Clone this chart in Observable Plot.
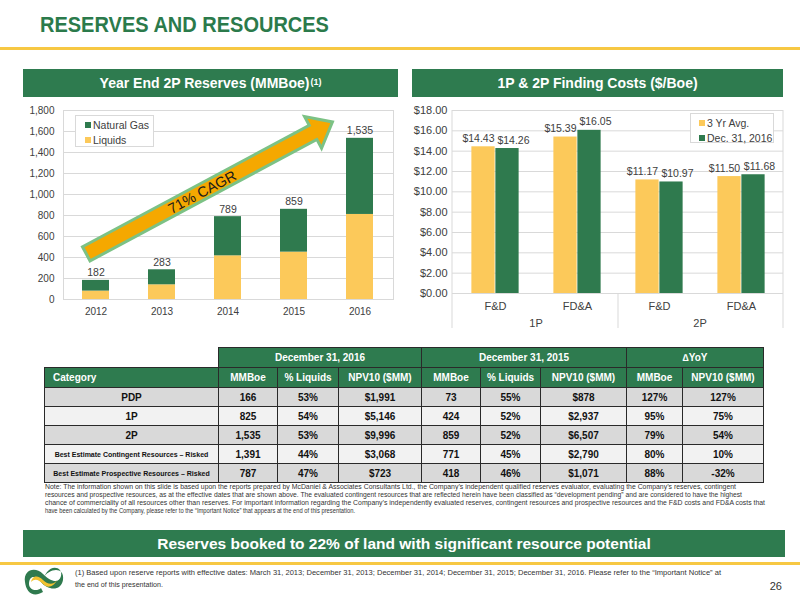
<!DOCTYPE html>
<html>
<head>
<meta charset="utf-8">
<script src="https://cdn.jsdelivr.net/npm/d3@7"></script>
<script src="https://cdn.jsdelivr.net/npm/@observablehq/plot@0.6"></script>
<style>
  html, body { margin: 0; padding: 0; background: #fff; }
  body { width: 800px; height: 600px; position: relative; overflow: hidden; font-family: "Liberation Sans", Arial, Helvetica, sans-serif; }
  .abs { position: absolute; }
  .title { left: 40px; top: 14px; font-size: 20px; font-weight: bold; color: #2B7A4B; letter-spacing: 0px; transform: scaleY(1.1); transform-origin: 0 100%; white-space: nowrap; }
  .rule { left: 0; width: 800px; height: 3px; background: #F7C843; }
  .bar { background: #2E7B4F; color: #fff; font-weight: bold; font-size: 14px; display: flex; align-items: center; justify-content: center; white-space: nowrap; }
  .bar sup { font-size: 9px; position: relative; top: -1px; margin-left: 1px; }
  .legend { border: 1px solid #d9d9d9; background: #fff; font-size: 10.5px; color: #404040; box-sizing: border-box; padding: 2px 0 0 9px; }
  .legend div { height: 15px; line-height: 15px; white-space: nowrap; }
  .legend span.sw { display: inline-block; width: 6px; height: 6px; margin-right: 2px; vertical-align: 1px; }
  table.tbl { position: absolute; left: 44px; top: 347px; border-collapse: collapse; table-layout: fixed; font-size: 10px; font-weight: bold; color: #111; }
  table.tbl td { border: 1px solid #2a2a2a; text-align: center; padding: 0; overflow: hidden; white-space: nowrap; }
  table.tbl tr.h td { background: #2E7B4F; color: #fff; height: 19px; }
  table.tbl tr.h td.blank { background: transparent; border: none; }
  table.tbl tr.d td { height: 18px; }
  table.tbl tr.g td { background: #D9D9D9; }
  table.tbl tr.l td { background: #F2F2F2; }
  table.tbl td.small { font-size: 7px; }
  table.tbl td.left { text-align: left; padding-left: 8px; }
  svg.notes { position: absolute; left: 0; top: 0; }
</style>
</head>
<body>
<div class="abs title" id="title"></div>
<div class="abs rule" style="top:47px"></div>
<div class="abs bar" id="hdrL" style="left:23px; top:69px; width:375px; height:28px"></div>
<div class="abs bar" id="hdrR" style="left:412px; top:69px; width:371px; height:28px"></div>
<div class="abs" id="chartL" style="left:0; top:100px"></div>
<div class="abs" id="chartR" style="left:400px; top:100px"></div>
<div class="abs legend" id="legL" style="left:75px; top:115px; width:79px; height:32px"></div>
<div class="abs legend" id="legR" style="left:690px; top:113px; width:84px; height:30px; padding-left:8px"></div>
<table class="tbl" id="tbl"></table>
<div class="abs bar" id="banner" style="left:23px; top:530px; width:762px; height:27px; font-size:15.5px"></div>
<div class="abs rule" style="top:562px"></div>
<svg class="notes" width="800" height="600" id="notes"></svg>
<script>
// ---------------- Data ----------------
const slideTitle = "RESERVES AND RESOURCES";
const leftHeader = "Year End 2P Reserves (MMBoe)";
const leftHeaderNote = "(1)";
const rightHeader = "1P & 2P Finding Costs ($/Boe)";
const bannerText = "Reserves booked to 22% of land with significant resource potential";

const years = ["2012", "2013", "2014", "2015", "2016"];
const liquids = [80, 140, 416, 451, 810];
const naturalGas = [102, 143, 373, 408, 725];
const reserveTotals = [182, 283, 789, 859, 1535];
const reserveSeries = ["Natural Gas", "Liquids"];
const reserveTicks = [0, 200, 400, 600, 800, 1000, 1200, 1400, 1600, 1800];
const cagr = {label: "71% CAGR", fromStep: -0.14, fromValue: 430, toStep: 3.59, toValue: 1686};

const costGroups = ["1P", "1P", "2P", "2P"];
const costMetrics = ["F&D", "FD&A", "F&D", "FD&A"];
const costAvg3yr = [14.43, 15.39, 11.17, 11.50];
const costDec2016 = [14.26, 16.05, 10.97, 11.68];
const costSeries = ["3 Yr Avg.", "Dec. 31, 2016"];
const costTicks = [0, 2, 4, 6, 8, 10, 12, 14, 16, 18];

const tblPeriods = ["December 31, 2016", "December 31, 2015", "\u2206YoY"];
const tblColumns = ["Category", "MMBoe", "% Liquids", "NPV10 ($MM)", "MMBoe", "% Liquids", "NPV10 ($MM)", "MMBoe", "NPV10 ($MM)"];
const tblCategories = ["PDP", "1P", "2P", "Best Estimate Contingent Resources \u2013 Risked", "Best Estimate Prospective Resources \u2013 Risked"];
const mmboe2016 = ["166", "825", "1,535", "1,391", "787"];
const liq2016 = ["53%", "54%", "53%", "44%", "47%"];
const npv2016 = ["$1,991", "$5,146", "$9,996", "$3,068", "$723"];
const mmboe2015 = ["73", "424", "859", "771", "418"];
const liq2015 = ["55%", "52%", "52%", "45%", "46%"];
const npv2015 = ["$878", "$2,937", "$6,507", "$2,790", "$1,071"];
const yoyMmboe = ["127%", "95%", "79%", "80%", "88%"];
const yoyNpv = ["127%", "75%", "54%", "10%", "-32%"];

const noteLines = [
  "Note: The information shown on this slide is based upon the reports prepared by McDaniel & Associates Consultants Ltd., the Company\u2019s independent qualified reserves evaluator, evaluating the Company\u2019s reserves, contingent",
  "resources and prospective resources, as at the effective dates that are shown above.  The evaluated contingent resources that are reflected herein have been classified as \u201cdevelopment pending\u201d and are considered to have the highest",
  "chance of commerciality of all resources other than reserves. For important information regarding the Company\u2019s independently evaluated reserves, contingent resources and prospective resources and the F&D costs and FD&A costs that",
  "have been calculated by the Company, please refer to the \u201cImportant Notice\u201d that appears at the end of this presentation."
];
const footLines = [
  "(1) Based upon reserve reports with effective dates: March 31, 2013; December 31, 2013; December 31, 2014; December 31, 2015; December 31, 2016. Please refer to the \u201cImportant Notice\u201d at",
  "the end of this presentation."
];
const pageNumber = "26";

// ---------------- Style ----------------
const GREEN = "#2F7A4E", YELLOW = "#FCC95A", GRID = "#D9D9D9", INK = "#404040";
const FONT = "'Liberation Sans', Arial, Helvetica, sans-serif";

document.getElementById("title").textContent = slideTitle;
document.getElementById("hdrL").append(leftHeader);
const sup = document.createElement("sup"); sup.textContent = leftHeaderNote;
document.getElementById("hdrL").append(sup);
document.getElementById("hdrR").textContent = rightHeader;
document.getElementById("banner").textContent = bannerText;

// ---------------- Left chart ----------------
const resData = years.flatMap((y, i) => [
  {year: y, series: "Liquids", value: liquids[i]},
  {year: y, series: "Natural Gas", value: naturalGas[i]}
]);
const totData = years.map((y, i) => ({year: y, total: reserveTotals[i]}));

function cagrArrow(index, scales, values, dims) {
  const x = scales.x, y = scales.y;
  const s0 = x(years[0]), step = x(years[1]) - s0;
  const bw = typeof x.bandwidth === "function" ? x.bandwidth() : 0;
  const px = t => s0 + bw / 2 + t * step;
  const x0 = px(cagr.fromStep), y0 = y(cagr.fromValue);
  const x1 = px(cagr.toStep), y1 = y(cagr.toValue);
  const dx = x1 - x0, dy = y1 - y0, L = Math.hypot(dx, dy);
  const ux = dx / L, uy = dy / L, nx = -uy, ny = ux;
  const sw = 8, hw = 18, hl = 22;
  const bx = x1 - ux * hl, by = y1 - uy * hl;
  const pts = [[x0 + nx * sw, y0 + ny * sw], [bx + nx * sw, by + ny * sw], [bx + nx * hw, by + ny * hw], [x1, y1],
               [bx - nx * hw, by - ny * hw], [bx - nx * sw, by - ny * sw], [x0 - nx * sw, y0 - ny * sw]];
  const g = d3.create("svg:g");
  g.append("polygon").attr("points", pts.map(p => p.join(",")).join(" "))
    .attr("fill", "#F5A800").attr("stroke", "#7CC285").attr("stroke-width", 3).attr("stroke-linejoin", "miter");
  const ang = Math.atan2(dy, dx) * 180 / Math.PI;
  const tx = x0 + dx * 0.47, ty = y0 + dy * 0.47;
  g.append("text").attr("transform", `translate(${tx},${ty}) rotate(${ang})`)
    .attr("text-anchor", "middle").attr("dy", "0.36em").attr("font-size", 14.5).attr("fill", "#1a1a1a")
    .attr("font-family", FONT).text(cagr.label);
  return g.node();
}

const chartL = Plot.plot({
  width: 400, height: 221, marginLeft: 63, marginRight: 7, marginTop: 10, marginBottom: 22,
  style: {fontFamily: FONT, fontSize: "10px", color: INK, background: "transparent", overflow: "visible"},
  x: {domain: years, paddingInner: 0.59, paddingOuter: 0.295, label: null, tickSize: 0, tickPadding: 8},
  y: {domain: [0, 1800], ticks: reserveTicks, tickFormat: d3.format(","), label: null, tickSize: 0, tickPadding: 9},
  color: {domain: ["Liquids", "Natural Gas"], range: [YELLOW, GREEN]},
  marks: [
    Plot.ruleY(reserveTicks, {stroke: GRID, strokeWidth: 1}),
    Plot.frame({stroke: GRID}),
    Plot.barY(resData, {x: "year", y: "value", fill: "series"}),
    Plot.text(totData, {x: "year", y: "total", text: d => d3.format(",")(d.total), lineAnchor: "bottom", dy: -4, fontSize: 10.5, fill: INK}),
    cagrArrow
  ]
});
document.getElementById("chartL").append(chartL);

// ---------------- Right chart ----------------
const costKeys = costGroups.map((g, i) => g + " " + costMetrics[i]);
const avgData = costKeys.map((k, i) => ({key: k, value: costAvg3yr[i]}));
const decData = costKeys.map((k, i) => ({key: k, value: costDec2016[i]}));
const groupNames = Array.from(new Set(costGroups));
const money = d => "$" + d.toFixed(2);

function groupAxis(index, scales, values, dims) {
  const x = scales.x;
  const bw = typeof x.bandwidth === "function" ? x.bandwidth() : (x(costKeys[1]) - x(costKeys[0]));
  const top = dims.marginTop, base = dims.height - dims.marginBottom, bottom = dims.height - 5;
  const g = d3.create("svg:g");
  const left = dims.marginLeft, right = dims.width - dims.marginRight;
  g.append("line").attr("x1", left).attr("x2", left).attr("y1", top).attr("y2", bottom).attr("stroke", GRID);
  g.append("line").attr("x1", right).attr("x2", right).attr("y1", top).attr("y2", bottom).attr("stroke", GRID);
  groupNames.forEach((name, gi) => {
    const keys = costKeys.filter((k, i) => costGroups[i] === name);
    const a = x(keys[0]), b = x(keys[keys.length - 1]) + bw;
    if (gi > 0) g.append("line").attr("x1", a).attr("x2", a).attr("y1", base).attr("y2", bottom).attr("stroke", GRID);
    g.append("text").attr("x", (a + b) / 2).attr("y", base + 30).attr("text-anchor", "middle").attr("dy", "0.35em")
      .attr("font-size", 11).attr("fill", INK).attr("font-family", FONT).text(name);
  });
  return g.node();
}

const BW = (800 - 400 - 52 - 17) / costKeys.length; // band width in px
const chartR = Plot.plot({
  width: 400, height: 233, marginLeft: 52, marginRight: 17, marginTop: 10, marginBottom: 40,
  style: {fontFamily: FONT, fontSize: "11px", color: INK, background: "transparent", overflow: "visible"},
  x: {domain: costKeys, padding: 0, label: null, tickSize: 0, tickPadding: 9, tickFormat: k => costMetrics[costKeys.indexOf(k)]},
  y: {domain: [0, 18], ticks: costTicks, tickFormat: money, label: null, tickSize: 0, tickPadding: 5},
  color: {domain: costSeries, range: [YELLOW, GREEN]},
  marks: [
    Plot.ruleY(costTicks, {stroke: GRID, strokeWidth: 1}),
    Plot.barY(avgData, {x: "key", y: "value", fill: () => costSeries[0], insetLeft: BW * 0.21, insetRight: BW * 0.5}),
    Plot.barY(decData, {x: "key", y: "value", fill: () => costSeries[1], insetLeft: BW * 0.5, insetRight: BW * 0.21}),
    Plot.text(avgData, {x: "key", y: "value", text: d => money(d.value), lineAnchor: "bottom", dx: -17, dy: -5, fontSize: 10.5, fill: INK}),
    Plot.text(decData, {x: "key", y: "value", text: d => money(d.value), lineAnchor: "bottom", dx: 18, dy: -5, fontSize: 10.5, fill: INK}),
    groupAxis
  ]
});
document.getElementById("chartR").append(chartR);

// ---------------- Legends ----------------
function legend(el, names, colors) {
  names.forEach((n, i) => {
    const row = document.createElement("div");
    const sw = document.createElement("span"); sw.className = "sw"; sw.style.background = colors[i];
    row.append(sw, n);
    el.append(row);
  });
}
legend(document.getElementById("legL"), reserveSeries, [GREEN, YELLOW]);
legend(document.getElementById("legR"), costSeries, [YELLOW, GREEN]);

// ---------------- Table ----------------
const colWidths = [174, 59, 61, 83, 59, 60, 86, 56, 81];
const tbl = document.getElementById("tbl");
tbl.style.width = colWidths.reduce((a, b) => a + b, 0) + "px";
const cg = document.createElement("colgroup");
colWidths.forEach(w => { const c = document.createElement("col"); c.style.width = w + "px"; cg.append(c); });
tbl.append(cg);
const r0 = document.createElement("tr"); r0.className = "h";
const blank = document.createElement("td"); blank.className = "blank"; r0.append(blank);
[[tblPeriods[0], 3], [tblPeriods[1], 3], [tblPeriods[2], 2]].forEach(([t, span]) => {
  const td = document.createElement("td"); td.colSpan = span; td.textContent = t; r0.append(td);
});
tbl.append(r0);
const r1 = document.createElement("tr"); r1.className = "h";
tblColumns.forEach((t, i) => { const td = document.createElement("td"); td.textContent = t; if (i === 0) td.className = "left"; r1.append(td); });
tbl.append(r1);
tblCategories.forEach((cat, i) => {
  const tr = document.createElement("tr"); tr.className = "d " + (i % 2 === 0 ? "g" : "l");
  [cat, mmboe2016[i], liq2016[i], npv2016[i], mmboe2015[i], liq2015[i], npv2015[i], yoyMmboe[i], yoyNpv[i]].forEach((v, j) => {
    const td = document.createElement("td"); td.textContent = v;
    if (j === 0 && cat.length > 10) td.className = "small";
    tr.append(td);
  });
  tbl.append(tr);
});

// ---------------- Notes / footer ----------------
const notes = d3.select("#notes");
const noteWidths = [691, 697, 720, 310];
noteLines.forEach((t, i) => {
  notes.append("text").attr("x", 45).attr("y", 489 + i * 8).attr("font-size", 6.3).attr("fill", "#333")
    .attr("font-family", FONT).attr("textLength", noteWidths[i]).attr("lengthAdjust", "spacingAndGlyphs").text(t);
});
const footWidths = [646, 88];
footLines.forEach((t, i) => {
  notes.append("text").attr("x", 75).attr("y", 575 + i * 12).attr("font-size", 7.3).attr("fill", "#333")
    .attr("font-family", FONT).attr("textLength", footWidths[i]).attr("lengthAdjust", "spacingAndGlyphs").text(t);
});
notes.append("text").attr("x", 782).attr("y", 590).attr("text-anchor", "end").attr("font-size", 11).attr("fill", "#333")
  .attr("font-family", FONT).text(pageNumber);
// logo
const logo = notes.append("g").attr("transform", "translate(43,580)");
logo.append("path").attr("d", "M-18,2 C-20,-10 -8,-14 0,-6 C8,2 16,4 18,-4 C20,-12 10,-16 4,-8 L0,-2 C6,-12 22,-14 20,0 C18,12 4,10 -2,2 C-8,-6 -14,-4 -14,4 C-14,10 -6,12 -2,8 L0,12 C-10,18 -17,12 -18,2 Z")
  .attr("fill", GREEN);
logo.append("path").attr("d", "M-12,2 C-10,-6 -4,-4 0,0 C4,4 10,6 14,0 C10,8 4,8 0,4 C-4,0 -8,-2 -12,2 Z").attr("fill", "#F2C230");
</script>
</body>
</html>
